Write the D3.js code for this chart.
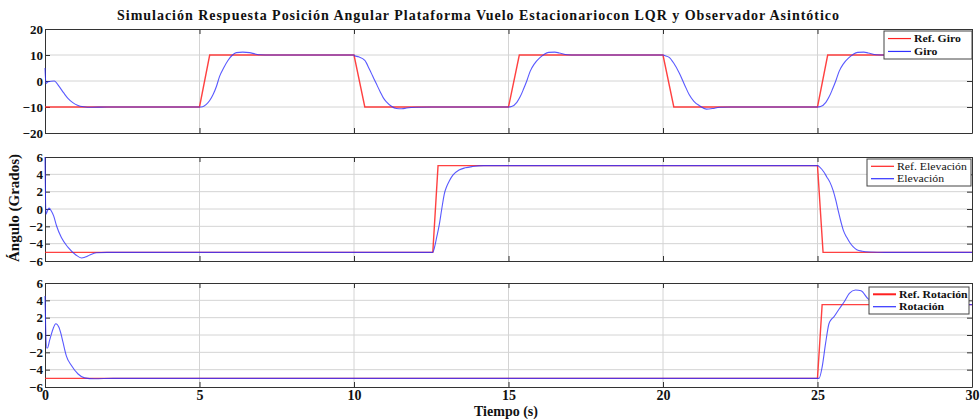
<!DOCTYPE html>
<html>
<head>
<meta charset="utf-8">
<script src="https://cdn.jsdelivr.net/npm/d3@7"></script>
<style>
body { margin: 0; background: #fff; }
svg text { font-family: "Liberation Serif", "DejaVu Serif", serif; font-weight: bold; fill: #111; }
</style>
</head>
<body>
<svg width="980" height="419"></svg>
<script>
// tiempo (s) y valores
var refGiro = [[0,-10],[5,-10],[5.33,10],[10,10],[10.35,-10],[15,-10],[15.35,10],[20,10],[20.35,-10],[25,-10],[25.33,10],[30,10]];
var giro = [[0,5],[0.03,-1],[0.1,-0.3],[0.3,0],[0.45,-2],[0.6,-4.5],[0.75,-6.8],[0.9,-8.3],[1.05,-9.3],[1.25,-9.9],[1.5,-10.1],[2,-10],[5,-10],
	[5.1,-9.9],[5.22,-9],[5.33,-7.5],[5.44,-5.2],[5.55,-2],[5.65,1.8],[5.78,5],[5.92,7.9],[6.05,9.8],[6.19,10.9],[6.4,11.1],[6.62,10.9],[6.8,10.4],[6.95,10.1],[7.3,10],[10,10],
	[10.02,9.7],[10.15,9.3],[10.35,7.9],[10.5,4.5],[10.6,2],[10.72,-1],[10.85,-4.2],[10.95,-6.5],[11.05,-8],[11.2,-9.6],[11.37,-10.6],[11.55,-10.7],[11.7,-10.4],[12,-10.1],[12.5,-10],[15,-10],
	[15.1,-9.8],[15.27,-8.2],[15.38,-6],[15.48,-3.3],[15.6,0.3],[15.7,3.7],[15.85,6.8],[16,8.8],[16.15,10.2],[16.3,11],[16.5,11.1],[16.64,10.8],[16.9,10.1],[17.2,10],[20,10],
	[20.05,9.8],[20.2,9.1],[20.35,6.8],[20.53,3],[20.7,-1.5],[20.85,-5.3],[21,-7.8],[21.18,-9.5],[21.4,-10.8],[21.6,-10.6],[21.83,-10.1],[22.2,-10],[25,-10],
	[25.1,-9.8],[25.27,-8.2],[25.38,-6],[25.48,-3.3],[25.6,0.3],[25.7,3.7],[25.85,6.8],[26,8.8],[26.15,10.2],[26.3,11],[26.5,11.1],[26.64,10.8],[26.9,10.1],[27.2,10],[30,10]];

var refElevacion = [[0,-5],[12.55,-5],[12.72,5],[25,5],[25.18,-5],[30,-5]];
var elevacion = [[0,6],[0.03,-0.6],[0.08,-0.2],[0.13,0.1],[0.2,-0.2],[0.28,-0.8],[0.37,-1.9],[0.53,-3.3],[0.74,-4.4],[1,-5.3],[1.18,-5.65],[1.3,-5.55],[1.45,-5.3],[1.66,-5.05],[2,-5],[12.55,-5],
	[12.6,-4.5],[12.68,-3.2],[12.76,-1.8],[12.84,0],[12.92,1.7],[13,2.6],[13.08,3.2],[13.2,3.9],[13.4,4.5],[13.6,4.75],[13.83,4.9],[14.2,5],[25,5],
	[25.08,4.8],[25.2,4.3],[25.3,3.7],[25.4,3.1],[25.51,2.1],[25.6,0.9],[25.67,-0.2],[25.76,-1.5],[25.84,-2.5],[25.95,-3.3],[26.05,-3.9],[26.15,-4.35],[26.27,-4.7],[26.45,-4.88],[26.7,-4.96],[27.2,-5],[30,-5]];

var refRotacion = [[0,-5],[25,-5],[25.15,3.5],[30,3.5]];
var rotacion = [[0,4.5],[0.05,-1.5],[0.08,-1.5],[0.15,-0.6],[0.26,0.7],[0.35,1.3],[0.45,0.9],[0.52,0.1],[0.58,-0.8],[0.69,-2.4],[0.85,-3.5],[1.07,-4.5],[1.28,-4.95],[1.6,-5.05],[2.2,-5],[25,-5],
	[25.05,-5],[25.15,-3.7],[25.26,-1],[25.37,1.3],[25.45,1.8],[25.53,2.1],[25.7,3],[25.86,3.8],[26.03,4.8],[26.23,5.2],[26.41,5.1],[26.63,4.2],[26.85,3.7],[27.2,3.5],[30,3.5]];

var xTicks = [0,5,10,15,20,25,30];
var giroTicks = [-20,-10,0,10,20];
var smallTicks = [-6,-4,-2,0,2,4,6];

var panels = [
	{ ref: refGiro, out: giro, dom: [-20,20], ticks: giroTicks, top: 29, labels: ['Ref. Giro','Giro'], leg: [884,31,88,28], legW: 'bold' },
	{ ref: refElevacion, out: elevacion, dom: [-6,6], ticks: smallTicks, top: 157, labels: ['Ref. Elevación','Elevación'], leg: [867,159,104,27], legW: 'normal' },
	{ ref: refRotacion, out: rotacion, dom: [-6,6], ticks: smallTicks, top: 283, labels: ['Ref. Rotación','Rotación'], leg: [869,287,100,27], legW: 'bold' }
];

var left = 45, right = 972, ph = 104;
var svg = d3.select('svg');

var x = d3.scaleLinear().domain([0,30]).range([left,right]);

svg.append('text')
	.attr('x', 478).attr('y', 20)
	.attr('text-anchor', 'middle')
	.attr('textLength', 722).attr('lengthAdjust', 'spacing')
	.style('font-size', '14px')
	.text('Simulación Respuesta Posición Angular Plataforma Vuelo Estacionariocon LQR y Observador Asintótico');

panels.forEach(function(p, k){
	var y = d3.scaleLinear().domain(p.dom).range([p.top + ph, p.top]);
	var g = svg.append('g');

	//grid
	g.selectAll('.gx').data(xTicks.slice(1,-1)).enter().append('line')
		.attr('x1', x).attr('x2', x).attr('y1', p.top).attr('y2', p.top + ph)
		.attr('stroke', '#d4d4d4');
	g.selectAll('.gy').data(p.ticks.slice(1,-1)).enter().append('line')
		.attr('x1', left).attr('x2', right).attr('y1', y).attr('y2', y)
		.attr('stroke', '#d4d4d4');

	//axes with inward ticks
	var xb = d3.axisBottom(x).tickValues(xTicks).tickSizeInner(-5).tickSizeOuter(0).tickPadding(3);
	if(k < 2) xb.tickFormat('');
	g.append('g').attr('class', 'xax').attr('transform', 'translate(0,' + (p.top + ph) + ')').call(xb);
	g.append('g').attr('transform', 'translate(0,' + p.top + ')')
		.call(d3.axisTop(x).tickValues(xTicks).tickSizeInner(-5).tickSizeOuter(0).tickFormat(''));
	g.append('g').attr('transform', 'translate(' + left + ',0)')
		.call(d3.axisLeft(y).tickValues(p.ticks).tickSizeInner(-5).tickSizeOuter(0).tickPadding(2));
	g.append('g').attr('transform', 'translate(' + right + ',0)')
		.call(d3.axisRight(y).tickValues(p.ticks).tickSizeInner(-5).tickSizeOuter(0).tickFormat(''));

	g.selectAll('.domain').attr('stroke', '#333');
	g.selectAll('.tick line').attr('stroke', '#333');
	g.selectAll('.tick text').style('font-size', '13px');
	g.selectAll('.xax .tick text').style('font-size', '14px');

	var line = d3.line().x(function(d){ return x(d[0]); }).y(function(d){ return y(d[1]); });

	g.append('path').datum(p.ref)
		.attr('d', line)
		.attr('fill', 'none').attr('stroke', '#ff2020').attr('stroke-width', 1.4).attr('stroke-opacity', 0.85);
	g.append('path').datum(p.out)
		.attr('d', line.curve(d3.curveMonotoneX))
		.attr('fill', 'none').attr('stroke', '#3030ff').attr('stroke-width', 1.1).attr('stroke-opacity', 0.8);

	//legend
	var L = p.leg;
	var lg = svg.append('g').attr('transform', 'translate(' + L[0] + ',' + L[1] + ')');
	lg.append('rect').attr('width', L[2]).attr('height', L[3])
		.attr('fill', '#fff').attr('stroke', '#444');
	[['#ff2020', p.labels[0]], ['#3030ff', p.labels[1]]].forEach(function(e, j){
		var ly = L[3] * (j == 0 ? 0.27 : 0.73);
		lg.append('line').attr('x1', 4).attr('x2', 27).attr('y1', ly).attr('y2', ly)
			.attr('stroke', e[0]).attr('stroke-width', (k == 2 && j == 0) ? 2 : 1.2);
		var t = lg.append('text').attr('x', 30).attr('y', ly + 3.5)
			.style('font-size', '10.5px').style('font-weight', p.legW)
			.text(e[1]);
		// the reference legend text is drawn a little wider than it is tall
		var w = t.node().getComputedTextLength();
		t.attr('textLength', w * 1.12).attr('lengthAdjust', 'spacingAndGlyphs');
	});
});

svg.append('text')
	.attr('transform', 'translate(19,208) rotate(-90)')
	.attr('text-anchor', 'middle')
	.style('font-size', '15px')
	.text('Ángulo (Grados)');

svg.append('text')
	.attr('x', 506).attr('y', 416)
	.attr('text-anchor', 'middle')
	.style('font-size', '14px')
	.text('Tiempo (s)');

svg.selectAll('.tick text').filter(function(){ return this.textContent !== ''; })
	.style('font-family', '"Liberation Serif", serif').style('font-weight', 'bold').attr('fill', '#111');
</script>
</body>
</html>
